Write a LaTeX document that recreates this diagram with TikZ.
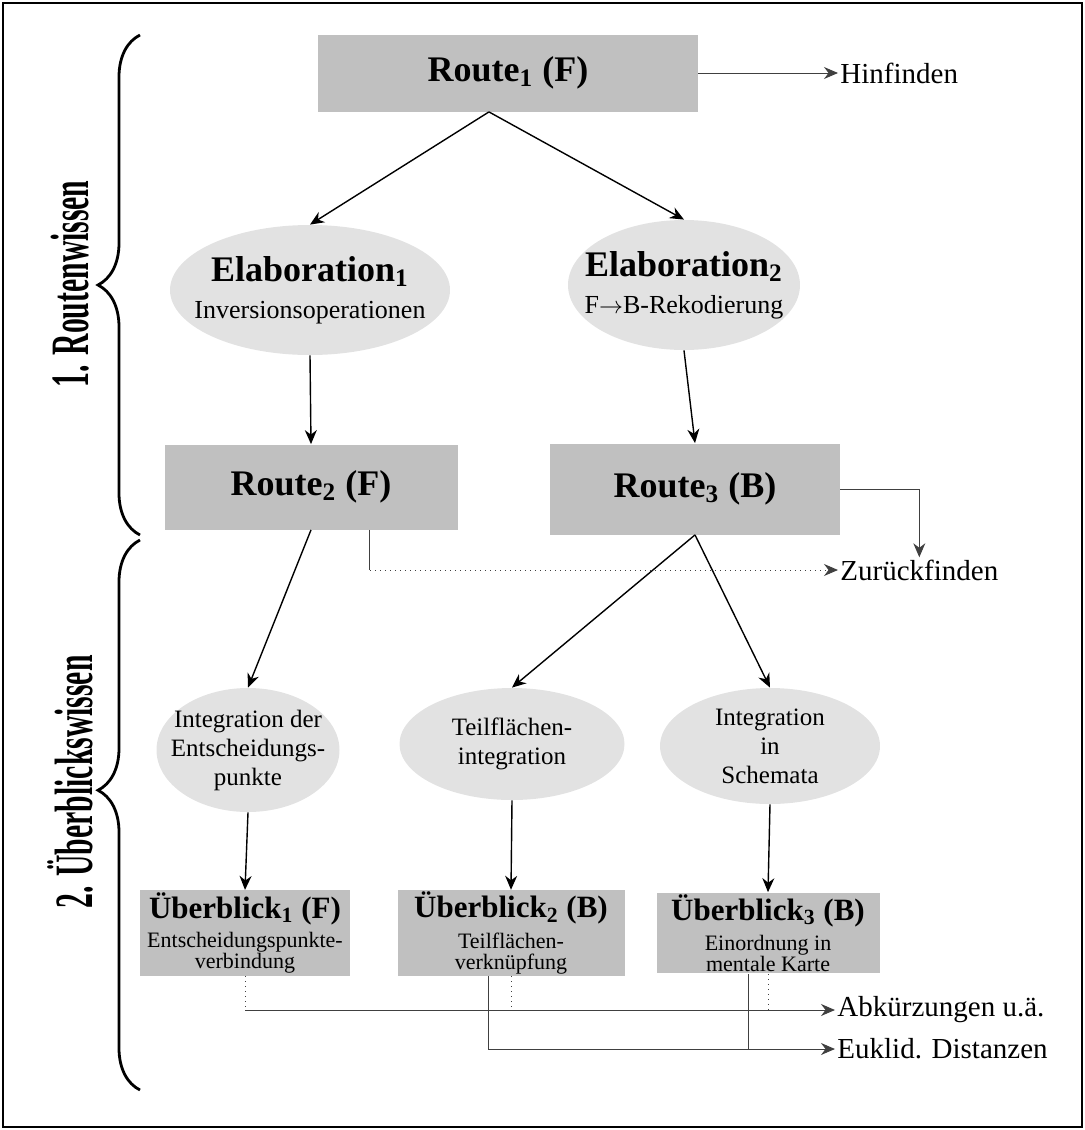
\documentclass[tikz,border=0pt]{standalone}
\usepackage{fontspec}
\setmainfont{Liberation Serif}
\newfontfamily\condfont[FakeStretch=0.55]{Liberation Serif}
\usetikzlibrary{arrows.meta, positioning, calc, shapes.geometric, decorations.pathreplacing}
\definecolor{BoxGray}{RGB}{192,192,192}
\definecolor{EllGray}{RGB}{226,226,226}

\begin{document}
\begin{tikzpicture}[
      x=0.5pt, y=-0.5pt,
      >={Stealth[length=7pt, width=6pt]},
      boxR/.style={fill=BoxGray, draw=none, inner sep=1pt, align=center,
        font=\fontsize{18}{21}\selectfont\bfseries},
      boxU/.style={fill=BoxGray, draw=none, inner sep=1pt, align=center,
        minimum height=36.5pt, font=\fontsize{11}{10.5}\selectfont},
      ellE/.style={ellipse, fill=EllGray, draw=none, inner xsep=-10pt, inner ysep=-6pt,
        align=center, font=\fontsize{12.5}{14.5}\selectfont},
      side/.style={font=\fontsize{14.5}{17}\selectfont, anchor=west, inner sep=1pt},
      conn/.style={draw=black!75, line width=0.5pt},
      main/.style={->, line width=0.7pt},
      grp/.style={font=\condfont\fontsize{27}{30}\selectfont\bfseries, rotate=90},
      brc/.style={decorate, decoration={brace, amplitude=21pt}, line width=1.4pt}
    ]
      \useasboundingbox (0,0) rectangle (1085,1130);
      \draw[line width=1.2pt] (3,3) rectangle (1082,1127);
      % Routenwissen
      \node[boxR, minimum width=190pt, minimum height=38.5pt] (r1) at (508,73) {Route\textsubscript{1} (F)};
      \node[side] (hin) at (838,73) {Hinfinden};
      \node[ellE, minimum width=140pt, minimum height=65pt] (e1) at (310,290)
        {{\fontsize{18}{21}\selectfont\bfseries Elaboration\textsubscript{1}}\\[4pt]%
         {\fontsize{13}{15}\selectfont Inversionsoperationen}};
      \node[ellE, minimum width=116pt, minimum height=65pt] (e2) at (684,285)
        {{\fontsize{18}{21}\selectfont\bfseries Elaboration\textsubscript{2}}\\[4pt]%
         {\fontsize{13}{15}\selectfont F$\rightarrow$B-Rekodierung}};
      \node[boxR, minimum width=146.5pt, minimum height=42.5pt] (r2) at (311,487) {Route\textsubscript{2} (F)};
      \node[boxR, minimum width=145pt, minimum height=45.5pt] (r3) at (695,489) {Route\textsubscript{3} (B)};
      \node[side] (zur) at (838,570) {Zurückfinden};
      % Ueberblickswissen
      \node[ellE, minimum width=91.5pt, minimum height=62pt] (i1) at (248,750)
        {Integration der\\Entscheidungs-\\punkte};
      \node[ellE, minimum width=112.5pt, minimum height=56pt] (i2) at (512,744)
        {Teilflächen-\\integration};
      \node[ellE, minimum width=110pt, minimum height=58pt] (i3) at (770,746)
        {Integration\\in\\Schemata};
      \node[boxU, minimum width=105pt] (u1) at (245,933)
        {{\fontsize{15.5}{17}\selectfont\bfseries Überblick\textsubscript{1} (F)}\\[3pt]Entscheidungspunkte-\\verbindung};
      \node[boxU, minimum width=113.5pt] (u2) at (511,933)
        {{\fontsize{15.5}{17}\selectfont\bfseries Überblick\textsubscript{2} (B)}\\[3pt]Teilflächen-\\verknüpfung};
      \node[boxU, minimum width=111.5pt] (u3) at (768,933)
        {{\fontsize{15.5}{17}\selectfont\bfseries Überblick\textsubscript{3} (B)}\\[3pt]Einordnung in\\mentale Karte};
      \node[side] (abk) at (835,1010) {Abkürzungen u.ä.};
      \node[side] (euk) at (835,1049) {Euklid. Distanzen};
      % braces and group labels
      \draw[brc] (140,535) -- (140,35);
      \draw[brc, decoration={aspect=0.545}] (140,1090) -- (140,540);
      \node[grp] (g1) at (70,284) {1. Routenwissen};
      \node[grp] (g2) at (70,782) {2. Überblickswissen};
      % connectors
      \coordinate (split) at ($(r1.south west)!0.45!(r1.south east)$);
      \draw[main] (split) -- (e1.north);
      \draw[main] (split) -- (e2.north);
      \draw[conn, ->] (r1.east) -- (hin.west);
      \draw[main] (e1.south) -- (r2.north);
      \draw[main] (e2.south) -- (r3.north);
      \draw[conn, ->] (r3.east) -| (zur.north);
      \coordinate (r2c) at ($(r2.south west)!0.7!(r2.south east)$);
      \coordinate (zc) at (r2c |- zur.west);
      \draw[conn] (r2c) -- (zc);
      \draw[conn, dotted, ->] (zc) -- (zur.west);
      \draw[main] (r2.south) -- (i1.north);
      \draw[main] (r3.south) -- (i2.north);
      \draw[main] (r3.south) -- (i3.north);
      \draw[main] (i1.south) -- (u1.north);
      \draw[main] (i2.south) -- (u2.north);
      \draw[main] (i3.south) -- (u3.north);
      % Abkuerzungen / Distanzen
      \coordinate (abkL) at (u1.south |- abk.west);
      \draw[conn, dotted] (u1.south) -- (abkL);
      \draw[conn, ->] (abkL) -- (abk.west);
      \draw[conn, dotted] (u2.south) -- (u2.south |- abk.west);
      \draw[conn, dotted] (u3.south) -- (u3.south |- abk.west);
      \coordinate (u2s) at ($(u2.south)+(-23,0)$);
      \coordinate (u3s) at ($(u3.south)+(-20,0)$);
      \draw[conn, ->] (u2s) -- (u2s |- euk.west) -- (euk.west);
      \draw[conn] (u3s) -- (u3s |- euk.west);
    \end{tikzpicture}
\end{document}
